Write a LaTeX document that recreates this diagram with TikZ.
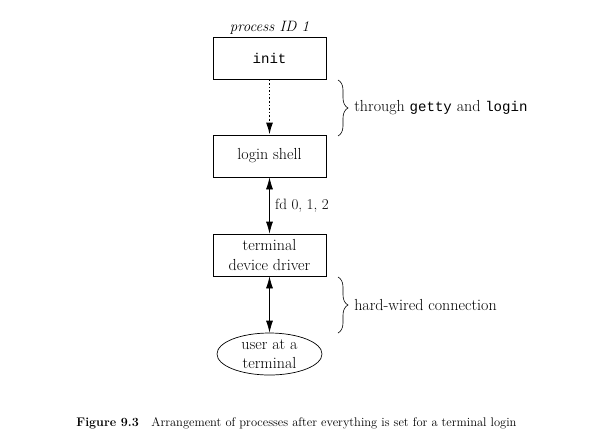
\documentclass[tikz,border=0pt]{standalone}
\usepackage{fontspec}
\setmonofont{Liberation Mono}[Scale=0.88]
\usetikzlibrary{arrows.meta,shapes.geometric,decorations.pathreplacing}
\begin{document}
\begin{tikzpicture}[x=1pt,y=-1pt,
  box/.style={draw,line width=0.7pt,minimum width=113pt,minimum height=42pt,inner sep=0pt,align=center,font=\fontsize{16}{20}\selectfont},
  usr/.style={draw,ellipse,line width=0.7pt,minimum width=105pt,minimum height=42pt,inner sep=0pt,align=center,font=\fontsize{16}{19}\selectfont},
  lbl/.style={font=\fontsize{16}{19}\selectfont},
  arr/.style={-{Latex[length=12pt,width=7pt]}},
  darr/.style={line width=0.7pt,{Latex[length=12pt,width=7pt]}-{Latex[length=12pt,width=7pt]}},
  brc/.style={draw,line width=0.6pt,decorate,decoration={brace,amplitude=10pt}}]
\useasboundingbox (0,0) rectangle (599,440);
\node[box] (init) at (269.5,58) {\texttt{init}};
\node[anchor=south,inner sep=2pt,font=\fontsize{15}{17}\selectfont\itshape] (pid) at (init.north) {process ID 1};
\node[box] (shell) at (269.5,156) {login shell};
\node[box] (tdd) at (269.5,255) {terminal\\device driver};
\node[usr] (user) at (269.5,354) {user at a\\terminal};
\draw[arr,line width=1.6pt,dotted] (init) -- (shell);
\draw[darr] (shell) -- node[lbl,right=2pt,font=\fontsize{15}{17}\selectfont] (fd) {fd 0, 1, 2} (tdd);
\draw[darr] (tdd) -- (user);
\coordinate (b1t) at (338,80);
\coordinate (b1b) at (338,136);
\draw[brc] (b1t) -- node[lbl,right=15pt,inner sep=1pt] (t1) {through \texttt{getty} and \texttt{login}} (b1b);
\coordinate (b2t) at (338,277);
\coordinate (b2b) at (338,333);
\draw[brc] (b2t) -- node[lbl,right=15pt,inner sep=1pt] (t2) {hard-wired connection} (b2b);
\node[font=\fontsize{12.5}{15}\selectfont] (cap) at (296.5,423) {\textbf{Figure 9.3}\quad Arrangement of processes after everything is set for a terminal login};
\end{tikzpicture}
\end{document}
